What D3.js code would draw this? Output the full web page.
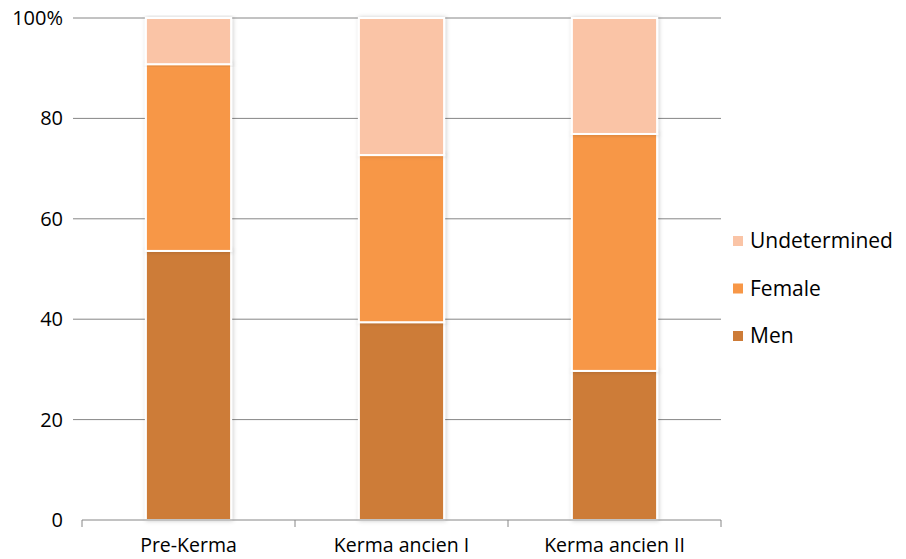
<!DOCTYPE html>
<head>
    <meta charset="utf-8">
    <script src="https://d3js.org/d3.v7.min.js"></script>
    <style>
        body { margin: 0; background: #fff; }
        svg text { font-family: "Open Sans", sans-serif; font-size: 20px; fill: #000; }
        svg .legend text { font-size: 21px; }
        svg .xlab text { font-size: 19.5px; }
    </style>
</head>
<body>
    <svg id="chart" width="906" height="559"></svg>
    <script>
        // data (percent of each group)
        var categories = ["Pre-Kerma", "Kerma ancien I", "Kerma ancien II"];
        var men = [53.6, 39.4, 29.7];
        var female = [37.2, 33.3, 47.2];
        var undetermined = [9.2, 27.3, 23.1];
        var yTicks = [0, 20, 40, 60, 80, 100];
        var seriesNames = ["Men", "Female", "Undetermined"];
        var colors = ["#CD7B37", "#F79747", "#FAC4A6"];

        var svg = d3.select("#chart");
        var plotLeft = 82, plotRight = 721, plotTop = 18, plotBottom = 520;

        var x = d3.scaleBand().domain(categories).range([plotLeft, plotRight])
            .paddingInner(0.6).paddingOuter(0.3);
        var y = d3.scaleLinear().domain([0, 100]).range([plotBottom, plotTop]);

        var rows = categories.map(function (c, i) {
            return { cat: c, Men: men[i], Female: female[i], Undetermined: undetermined[i] };
        });
        var stacked = d3.stack().keys(seriesNames)(rows);

        // gridlines
        svg.append("g").selectAll("line").data(yTicks.slice(1)).enter().append("line")
            .attr("x1", 73).attr("x2", plotRight)
            .attr("y1", function (d) { return y(d); }).attr("y2", function (d) { return y(d); })
            .attr("stroke", "#868686").attr("stroke-width", 1);

        // y labels
        svg.append("g").selectAll("text").data(yTicks).enter().append("text")
            .attr("x", 63).attr("y", function (d) { return y(d); })
            .attr("dy", "0.35em").attr("text-anchor", "end")
            .text(function (d) { return d === 100 ? "100%" : d; });

        // shadow filter
        var defs = svg.append("defs");
        var f = defs.append("filter").attr("id", "shadow").attr("x", "-20%").attr("y", "-5%").attr("width", "140%").attr("height", "110%");
        f.append("feDropShadow").attr("dx", 1).attr("dy", 0).attr("stdDeviation", 2)
            .attr("flood-color", "#000").attr("flood-opacity", 0.2);

        // bars
        svg.append("g").selectAll("g").data(stacked).enter().append("g")
            .attr("fill", function (d, i) { return colors[i]; })
            .selectAll("rect").data(function (d) { return d; }).enter().append("rect")
            .attr("x", function (d) { return x(d.data.cat); })
            .attr("width", x.bandwidth())
            .attr("y", function (d) { return y(d[1]); })
            .attr("height", function (d) { return y(d[0]) - y(d[1]); })
            .attr("stroke", "#fff").attr("stroke-width", 2)
            .attr("filter", "url(#shadow)");

        // x axis
        var ax = svg.append("g").attr("stroke", "#868686").attr("stroke-width", 1);
        ax.append("line").attr("x1", plotLeft).attr("x2", plotRight).attr("y1", plotBottom).attr("y2", plotBottom);
        var edges = categories.map(function (c) { return x(c) - x.step() * 0.3; }).concat([plotRight]);
        ax.selectAll("line.tick").data(edges).enter().append("line").attr("class", "tick")
            .attr("x1", function (d) { return d; }).attr("x2", function (d) { return d; })
            .attr("y1", plotBottom).attr("y2", plotBottom + 7);

        svg.append("g").attr("class", "xlab").selectAll("text").data(categories).enter().append("text")
            .attr("x", function (d) { return x(d) + x.bandwidth() / 2; })
            .attr("y", 545).attr("dy", "0.35em").attr("text-anchor", "middle")
            .text(function (d) { return d; });

        // legend
        var legendOrder = [2, 1, 0];
        var lg = svg.append("g").attr("class", "legend").selectAll("g").data(legendOrder).enter().append("g")
            .attr("transform", function (d, i) { return "translate(733," + (241 + i * 47.5) + ")"; });
        lg.append("rect").attr("x", 0).attr("y", -5).attr("width", 10).attr("height", 10)
            .attr("fill", function (d) { return colors[d]; });
        lg.append("text").attr("x", 17).attr("dy", "0.35em")
            .text(function (d) { return seriesNames[d]; });
    </script>
</body>
